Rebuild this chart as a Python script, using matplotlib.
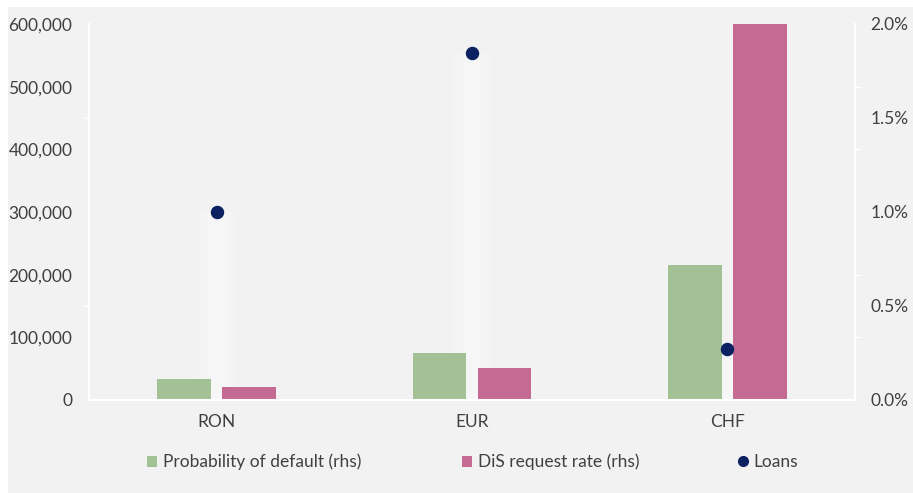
import matplotlib
matplotlib.use("Agg")
import matplotlib.pyplot as plt
from matplotlib.patches import Rectangle
from matplotlib.lines import Line2D
from matplotlib.ticker import FuncFormatter, FixedLocator
import numpy as np

categories = ["RON", "EUR", "CHF"]
prob_default = [0.11, 0.25, 0.72]      # % (rhs)
dis_request_rate = [0.07, 0.17, 2.00]  # % (rhs)
loans = [300000, 553000, 81000]        # number of loans (lhs)

left_ticks = [0, 100000, 200000, 300000, 400000, 500000, 600000]
right_ticks = [0.0, 0.5, 1.0, 1.5, 2.0]

bg = "#f2f2f2"
green = "#a2c195"
pink = "#c56b93"
navy = "#0b2161"
txt = "#404040"
fs = 12.5

plt.rcParams["font.family"] = ["Lato", "DejaVu Sans"]

fig = plt.figure(figsize=(9.13, 4.93), dpi=100, facecolor="white")
fig.patches.append(Rectangle((8 / 913, 0), 1, 1 - 7 / 493, transform=fig.transFigure,
                             facecolor=bg, edgecolor="none", zorder=-10))

ax = fig.add_axes([89 / 913, 1 - 400 / 493, (855 - 89) / 913, (400 - 24) / 493])
ax.set_facecolor("none")
ax2 = ax.twinx()
ax2.set_facecolor("none")

ax.set_xlim(-0.5, 2.5)
ax.set_ylim(0, 600000)
ax2.set_ylim(0, 2.0)

x = np.arange(len(categories))
w = 0.21
off = 0.127

# faint light band beneath each loan marker (lhs scale, drawn under the bars)
ax.bar(x, loans, width=0.14, color="white", alpha=0.22, zorder=1, linewidth=0)
ax.bar(x, loans, width=0.07, color="white", alpha=0.2, zorder=1, linewidth=0)

ax2.bar(x - off, prob_default, width=w, color=green, zorder=2)
ax2.bar(x + off, dis_request_rate, width=w, color=pink, zorder=2)

# loan markers on top of the bars, in lhs units
ax2.scatter(x, loans, s=75, color=navy, zorder=5, transform=ax.transData, clip_on=False)
ax2.set_ylim(0, 2.0)

ax.set_xticks(x)
ax.set_xticklabels(categories)
ax.set_yticks(left_ticks)
ax.yaxis.set_major_formatter(FuncFormatter(lambda v, p: f"{int(v):,}"))
ax2.set_yticks(right_ticks)
ax2.yaxis.set_major_formatter(FuncFormatter(lambda v, p: f"{v:.1f}%"))

# small white marks on each spine
ax.yaxis.set_minor_locator(FixedLocator([v / 2.0 * 600000 for v in right_ticks]))
ax2.yaxis.set_minor_locator(FixedLocator([v / 600000 * 2.0 for v in left_ticks]))

for a in (ax, ax2):
    for s in a.spines.values():
        s.set_visible(False)
    a.tick_params(axis="both", which="major", length=0, labelsize=fs, colors=txt)
    a.tick_params(axis="y", which="minor", length=4, width=1, color="white")
    for k in ("left", "right", "bottom"):
        a.spines[k].set_visible(True)
        a.spines[k].set_color("white")
        a.spines[k].set_linewidth(1.5)
ax.tick_params(axis="y", pad=12)
ax2.tick_params(axis="y", pad=11)
ax.tick_params(axis="x", pad=10)

entries = [
    (Rectangle((0, 0), 1, 1, facecolor=green), "Probability of default (rhs)", 147),
    (Rectangle((0, 0), 1, 1, facecolor=pink), "DiS request rate (rhs)", 462),
    (Line2D([], [], marker="o", linestyle="none", color=navy, markersize=7), "Loans", 738),
]
for h, lab, px in entries:
    fig.legend([h], [lab], loc="center left", bbox_to_anchor=(px / 913, 1 - 462 / 493),
               frameon=False, fontsize=fs, labelcolor=txt, handlelength=0.6,
               handleheight=0.6, handletextpad=0.3, borderpad=0, borderaxespad=0)

fig.savefig("out.png", dpi=100, facecolor=fig.get_facecolor())
